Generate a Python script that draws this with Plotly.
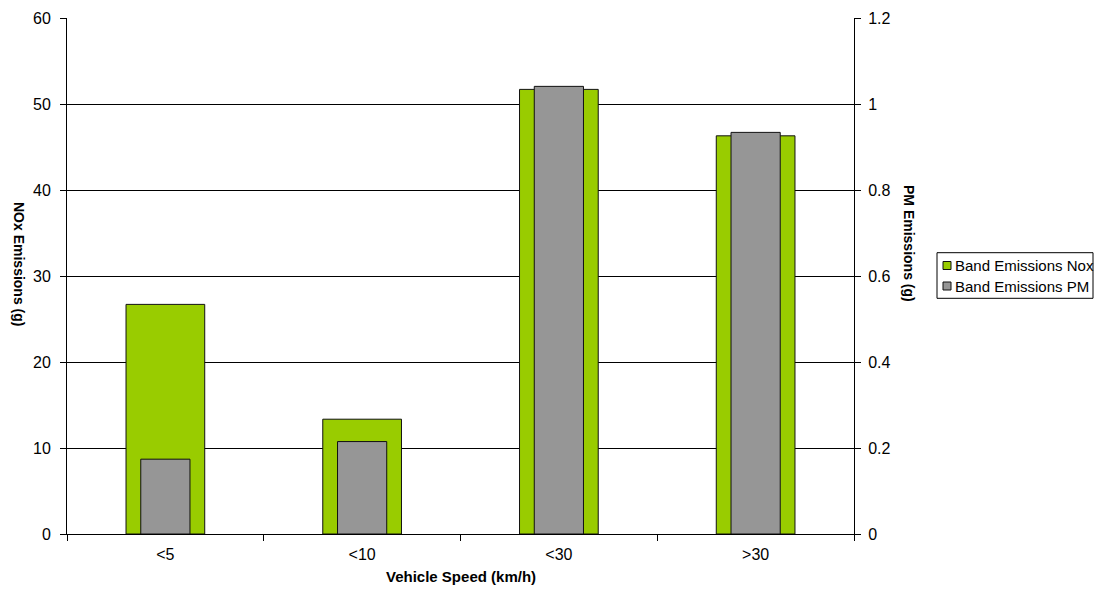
import plotly.graph_objects as go

categories = ["<5", "<10", "<30", ">30"]
nox_values = [26.7, 13.35, 51.7, 46.3]
pm_values = [0.174, 0.215, 1.041, 0.934]
left_ticks = [0, 10, 20, 30, 40, 50, 60]
right_ticks = [0, 0.2, 0.4, 0.6, 0.8, 1.0, 1.2]
right_tick_text = ["0", "0.2", "0.4", "0.6", "0.8", "1", "1.2"]
series_names = ["Band Emissions Nox", "Band Emissions PM"]
series_colors = ["#99CC00", "#969696"]

FONT = "Liberation Sans, Arial, sans-serif"

# figure geometry (page is offset by the 8px body margin)
W, H = 1094, 583
ML, MR, MT, MB = 59, 248, 10, 57
PW, PH = W - ML - MR, H - MT - MB


def px(x):
    return (x - ML) / PW


def py(y):
    return (H - MB - y) / PH


fig = go.Figure()
fig.add_trace(go.Bar(
    x=categories, y=nox_values, name=series_names[0],
    marker=dict(color=series_colors[0], line=dict(color="#111111", width=1)),
    width=0.40, yaxis="y",
))
fig.add_trace(go.Bar(
    x=categories, y=pm_values, name=series_names[1],
    marker=dict(color=series_colors[1], line=dict(color="#111111", width=1)),
    width=0.25, yaxis="y2",
))

# custom legend (box, swatches, labels)
shapes = [dict(type="rect", xref="paper", yref="paper",
               x0=px(929), x1=px(1085), y0=py(244.7), y1=py(290.3),
               line=dict(color="#000000", width=1), fillcolor="white", layer="above")]
annotations = []
row_centers = [257.5, 278]
for name, color, yc in zip(series_names, series_colors, row_centers):
    shapes.append(dict(type="rect", xref="paper", yref="paper",
                       x0=px(935), x1=px(943), y0=py(yc + 4), y1=py(yc - 4),
                       line=dict(color="#111111", width=1), fillcolor=color, layer="above"))
    annotations.append(dict(text=name, xref="paper", yref="paper",
                            x=px(945), y=py(yc), xanchor="left", yanchor="middle",
                            showarrow=False, font=dict(family=FONT, size=15)))

annotations += [
    dict(text="<b>NOx Emissions (g)</b>", textangle=90,
         xref="paper", yref="paper", x=px(11), y=py(256),
         xanchor="center", yanchor="middle", showarrow=False,
         font=dict(family=FONT, size=14)),
    dict(text="<b>PM Emissions (g)</b>", textangle=90,
         xref="paper", yref="paper", x=px(901), y=py(236),
         xanchor="center", yanchor="middle", showarrow=False,
         font=dict(family=FONT, size=14)),
    dict(text="<b>Vehicle Speed (km/h)</b>",
         xref="paper", yref="paper", x=0.5, y=py(568.5),
         xanchor="center", yanchor="middle", showarrow=False,
         font=dict(family=FONT, size=15)),
]

fig.update_layout(
    template="none",
    width=W, height=H,
    margin=dict(l=ML, r=MR, t=MT, b=MB, autoexpand=False, pad=0),
    paper_bgcolor="white", plot_bgcolor="white",
    barmode="overlay",
    font=dict(family=FONT, size=16, color="#000000"),
    showlegend=False,
    xaxis=dict(
        showline=True, linecolor="#000000", linewidth=1,
        ticks="outside", ticklen=6, tickcolor="#000000",
        tickson="boundaries", showgrid=False, automargin=False,
        tickfont=dict(size=16), ticklabelstandoff=6,
    ),
    yaxis=dict(
        range=[0, 60], tickvals=left_ticks,
        showline=True, linecolor="#000000", linewidth=1,
        ticks="outside", ticklen=6, tickcolor="#000000",
        showgrid=True, gridcolor="#000000", gridwidth=1,
        zeroline=False, automargin=False, tickfont=dict(size=16),
        ticklabelstandoff=6,
    ),
    yaxis2=dict(
        range=[0, 1.2], tickvals=right_ticks, ticktext=right_tick_text,
        overlaying="y", side="right",
        showline=True, linecolor="#000000", linewidth=1,
        ticks="outside", ticklen=6, tickcolor="#000000",
        showgrid=False, zeroline=False, automargin=False,
        tickfont=dict(size=16), ticklabelstandoff=4,
    ),
    shapes=shapes,
    annotations=annotations,
)

fig.write_html("out.html")
